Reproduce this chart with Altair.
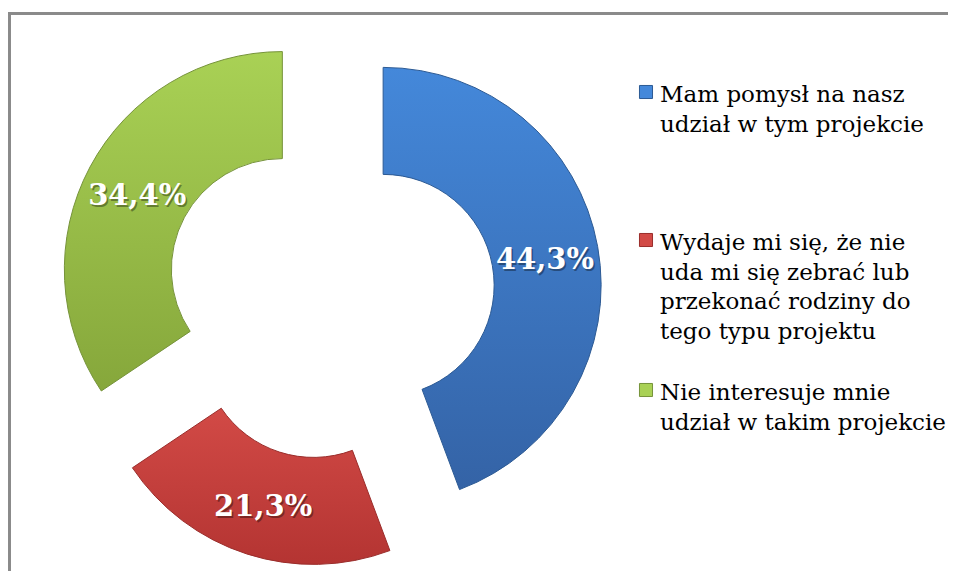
import altair as alt
import pandas as pd

# ---- data ----
categories = [
    "Mam pomysł na nasz\nudział w tym projekcie",
    "Wydaje mi się, że nie\nuda mi się zebrać lub\nprzekonać rodziny do\ntego typu projektu",
    "Nie interesuje mnie\nudział w takim projekcie",
]
values = [44.3, 21.3, 34.4]
order = [0, 1, 2]

# ---- style / layout ----
top_colors = ["#4488da", "#d24a46", "#a9d155"]
bottom_colors = ["#3463a6", "#b43432", "#86a73b"]
edge_colors = ["#2c5a94", "#9a2d2b", "#76933a"]
CX, CY = 322, 287          # pie center (px)
EXPLODE = 54               # explosion distance (px)
R_OUT, R_IN = 218, 111
LEGEND_Y = [84, 232, 382]  # legend marker centres (px)
LEGEND_X = 638
FONT = "DejaVu Serif"
W, H = 940, 563

df = pd.DataFrame({"cat": categories, "value": values, "order": order})

base = (
    alt.Chart(df)
    .transform_joinaggregate(total="sum(value)")
    .transform_window(cum="sum(value)", sort=[alt.SortField("order")], frame=[None, 0])
    .transform_calculate(
        t0="2*PI*(datum.cum - datum.value)/datum.total",
        t1="2*PI*datum.cum/datum.total",
    )
    .transform_calculate(tm="(datum.t0 + datum.t1)/2")
    .transform_calculate(
        cx=f"{CX} + {EXPLODE}*sin(datum.tm)",
        cy=f"{CY} - {EXPLODE}*cos(datum.tm)",
        lbl="replace(format(datum.value, '.1f'), '.', ',') + '%'",
        ly=f"{LEGEND_Y}[datum.order]",
    )
)

layers = []
for i, c in enumerate(categories):
    grad = alt.Gradient(
        gradient="linear", x1=0, y1=0, x2=0, y2=1,
        stops=[alt.GradientStop(offset=0, color=top_colors[i]),
               alt.GradientStop(offset=1, color=bottom_colors[i])],
    )
    arc = (
        base.transform_filter(alt.datum.order == i)
        .mark_arc(innerRadius=R_IN, outerRadius=R_OUT, fill=grad,
                  stroke=edge_colors[i], strokeWidth=1)
        .encode(
            x=alt.X("cx:Q", scale=None),
            y=alt.Y("cy:Q", scale=None),
            theta=alt.Theta("t0:Q", scale=None),
            theta2="t1:Q",
        )
    )
    layers.append(arc)

label_enc = dict(
    x=alt.X("cx:Q", scale=None),
    y=alt.Y("cy:Q", scale=None),
    theta=alt.Theta("tm:Q", scale=None),
    radius=alt.value((R_OUT + R_IN) / 2),
    text="lbl:N",
)
shadow = base.mark_text(font=FONT, fontSize=29, fontWeight="bold", color="#000000",
                        opacity=0.35, dx=1.5, dy=5.5).encode(**label_enc)
labels = base.mark_text(font=FONT, fontSize=29, fontWeight="bold",
                        color="#ffffff", dy=4).encode(**label_enc)

color_scale = alt.Scale(domain=categories, range=top_colors)
leg_sq = base.mark_square(size=170, opacity=1, strokeWidth=1).encode(
    x=alt.value(LEGEND_X),
    y=alt.Y("ly:Q", scale=None),
    fill=alt.Color("cat:N", scale=color_scale, legend=None),
    stroke=alt.Stroke("cat:N", scale=alt.Scale(domain=categories, range=edge_colors), legend=None),
)
leg_txt = base.mark_text(font=FONT, fontSize=23, align="left", baseline="alphabetic",
                         lineBreak="\n", lineHeight=29.5, dx=14, dy=10,
                         color="#000000").encode(
    x=alt.value(LEGEND_X),
    y=alt.Y("ly:Q", scale=None),
    text="cat:N",
)

frame_top = alt.Chart(df).mark_rule(color="#8a8a8a", strokeWidth=2.5).encode(
    x=alt.value(0), x2=alt.value(W), y=alt.value(5.5)
)
frame_left = alt.Chart(df).mark_rule(color="#8a8a8a", strokeWidth=2.5).encode(
    x=alt.value(1.5), y=alt.value(4.5), y2=alt.value(H)
)

chart = (
    alt.layer(frame_top, frame_left, *layers, shadow, labels, leg_sq, leg_txt)
    .properties(width=W, height=H, autosize=alt.AutoSizeParams(type="none"), padding=0)
    .configure_view(stroke=None)
)

chart.save("out.html", embed_options={"renderer": "svg", "actions": False})
